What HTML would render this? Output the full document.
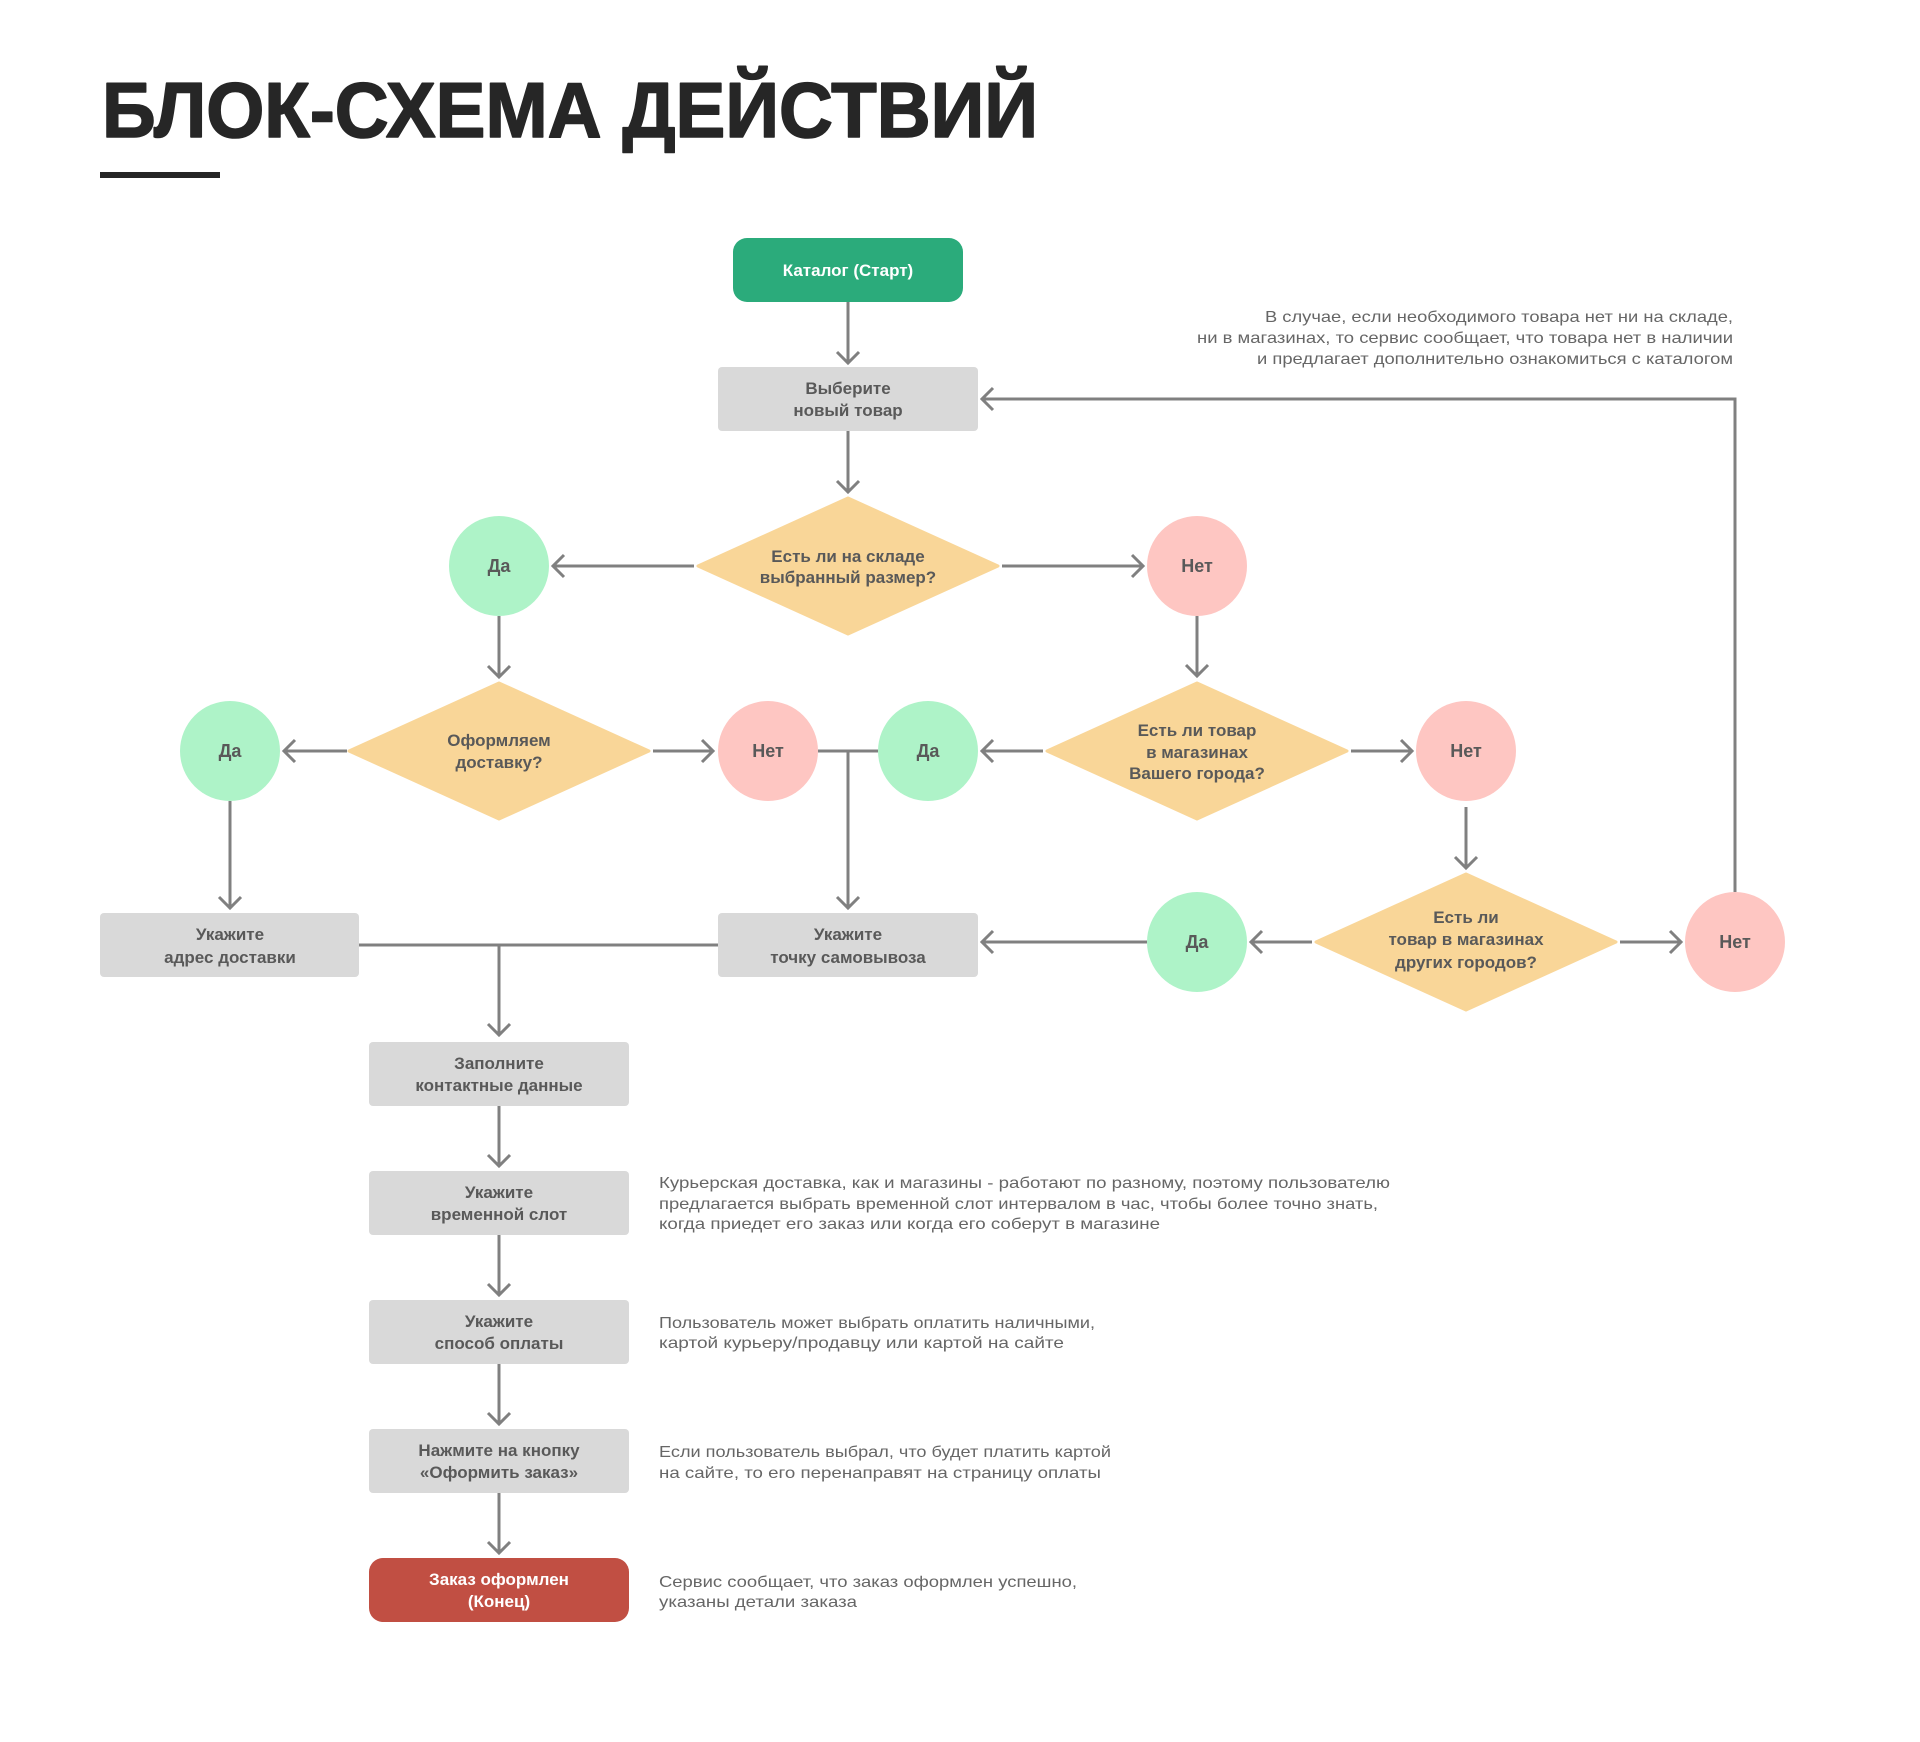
<!DOCTYPE html>
<html>
<head>
<meta charset="utf-8">
<style>
html,body{margin:0;padding:0;background:#fff;}
svg{display:block;}
</style>
</head>
<body>
<svg width="1920" height="1742" viewBox="0 0 1920 1742" xmlns="http://www.w3.org/2000/svg">
<rect width="1920" height="1742" fill="#ffffff"/>

<!-- Title -->
<text x="102" y="137" font-family="Liberation Sans, sans-serif" font-weight="bold" font-size="78" fill="#262626" stroke="#262626" stroke-width="1.6" stroke-linejoin="round" textLength="936" lengthAdjust="spacingAndGlyphs">БЛОК-СХЕМА ДЕЙСТВИЙ</text>
<rect x="100" y="172" width="120" height="6" fill="#262626"/>

<!-- Connectors -->
<g stroke="#808080" stroke-width="3" fill="none" stroke-linejoin="miter">
  <path d="M848 302 V363 M837 352 L848 363 L859 352"/>
  <path d="M848 431 V492 M837 481 L848 492 L859 481"/>
  <path d="M694 566 H553 M564 555 L553 566 L564 577"/>
  <path d="M1002 566 H1143 M1132 555 L1143 566 L1132 577"/>
  <path d="M499 616 V677 M488 666 L499 677 L510 666"/>
  <path d="M1197 616 V676 M1186 665 L1197 676 L1208 665"/>
  <path d="M347 751 H284 M295 740 L284 751 L295 762"/>
  <path d="M653 751 H713 M702 740 L713 751 L702 762"/>
  <path d="M818 751 H878 M848 751 V908 M837 897 L848 908 L859 897"/>
  <path d="M1043 751 H982 M993 740 L982 751 L993 762"/>
  <path d="M1351 751 H1412 M1401 740 L1412 751 L1401 762"/>
  <path d="M1466 807 V868 M1455 857 L1466 868 L1477 857"/>
  <path d="M1312 942 H1251 M1262 931 L1251 942 L1262 953"/>
  <path d="M1620 942 H1681 M1670 931 L1681 942 L1670 953"/>
  <path d="M1147 942 H982 M993 931 L982 942 L993 953"/>
  <path d="M1735 892 V399 H982 M993 388 L982 399 L993 410"/>
  <path d="M230 801 V908 M219 897 L230 908 L241 897"/>
  <path d="M359 945 H718 M499 945 V1035 M488 1024 L499 1035 L510 1024"/>
  <path d="M499 1106 V1166 M488 1155 L499 1166 L510 1155"/>
  <path d="M499 1234 V1295 M488 1284 L499 1295 L510 1284"/>
  <path d="M499 1363 V1424 M488 1413 L499 1424 L510 1413"/>
  <path d="M499 1493 V1553 M488 1542 L499 1553 L510 1542"/>
</g>

<!-- Shapes -->
<rect x="733" y="238" width="230" height="64" rx="14" fill="#2bab7b"/>
<rect x="718" y="367" width="260" height="64" rx="4" fill="#d9d9d9"/>

<g fill="#f9d698" stroke="#f9d698" stroke-width="3" stroke-linejoin="round">
  <polygon points="848,498 998,566 848,634 698,566"/>
  <polygon points="499,683 649,751 499,819 349,751"/>
  <polygon points="1197,683 1347,751 1197,819 1047,751"/>
  <polygon points="1466,874 1616,942 1466,1010 1316,942"/>
</g>

<g fill="#aef3c8">
  <circle cx="499" cy="566" r="50"/>
  <circle cx="230" cy="751" r="50"/>
  <circle cx="928" cy="751" r="50"/>
  <circle cx="1197" cy="942" r="50"/>
</g>
<g fill="#fec6c2">
  <circle cx="1197" cy="566" r="50"/>
  <circle cx="768" cy="751" r="50"/>
  <circle cx="1466" cy="751" r="50"/>
  <circle cx="1735" cy="942" r="50"/>
</g>

<g fill="#d9d9d9">
  <rect x="100" y="913" width="259" height="64" rx="4"/>
  <rect x="718" y="913" width="260" height="64" rx="4"/>
  <rect x="369" y="1042" width="260" height="64" rx="4"/>
  <rect x="369" y="1171" width="260" height="64" rx="4"/>
  <rect x="369" y="1300" width="260" height="64" rx="4"/>
  <rect x="369" y="1429" width="260" height="64" rx="4"/>
</g>
<rect x="369" y="1558" width="260" height="64" rx="14" fill="#c14f43"/>

<!-- Node labels -->
<g font-family="Liberation Sans, sans-serif" font-weight="bold" font-size="17" fill="#595959" text-anchor="middle">
  <text x="848" y="276" fill="#ffffff">Каталог (Старт)</text>
  <text x="848" y="394">Выберите</text>
  <text x="848" y="416">новый товар</text>

  <text x="848" y="562">Есть ли на складе</text>
  <text x="848" y="583">выбранный размер?</text>

  <text x="499" y="746">Оформляем</text>
  <text x="499" y="768">доставку?</text>

  <text x="1197" y="736">Есть ли товар</text>
  <text x="1197" y="758">в магазинах</text>
  <text x="1197" y="779">Вашего города?</text>

  <text x="1466" y="923">Есть ли</text>
  <text x="1466" y="945">товар в магазинах</text>
  <text x="1466" y="968">других городов?</text>

  <text x="230" y="940">Укажите</text>
  <text x="230" y="963">адрес доставки</text>
  <text x="848" y="940">Укажите</text>
  <text x="848" y="963">точку самовывоза</text>

  <text x="499" y="1069">Заполните</text>
  <text x="499" y="1091">контактные данные</text>
  <text x="499" y="1198">Укажите</text>
  <text x="499" y="1220">временной слот</text>
  <text x="499" y="1327">Укажите</text>
  <text x="499" y="1349">способ оплаты</text>
  <text x="499" y="1456">Нажмите на кнопку</text>
  <text x="499" y="1478">«Оформить заказ»</text>
  <text x="499" y="1585" fill="#ffffff">Заказ оформлен</text>
  <text x="499" y="1607" fill="#ffffff">(Конец)</text>
</g>
<g font-family="Liberation Sans, sans-serif" font-weight="bold" font-size="18" fill="#595959" text-anchor="middle">
  <text x="499" y="572">Да</text>
  <text x="1197" y="572">Нет</text>
  <text x="230" y="757">Да</text>
  <text x="768" y="757">Нет</text>
  <text x="928" y="757">Да</text>
  <text x="1466" y="757">Нет</text>
  <text x="1197" y="948">Да</text>
  <text x="1735" y="948">Нет</text>
</g>

<!-- Annotations -->
<g font-family="Liberation Sans, sans-serif" font-size="16" fill="#666666">
  <text x="1733" y="322" text-anchor="end" textLength="468" lengthAdjust="spacingAndGlyphs">В случае, если необходимого товара нет ни на складе,</text>
  <text x="1733" y="343" text-anchor="end" textLength="536" lengthAdjust="spacingAndGlyphs">ни в магазинах, то сервис сообщает, что товара нет в наличии</text>
  <text x="1733" y="364" text-anchor="end" textLength="476" lengthAdjust="spacingAndGlyphs">и предлагает дополнительно ознакомиться с каталогом</text>

  <text x="659" y="1188" textLength="731" lengthAdjust="spacingAndGlyphs">Курьерская доставка, как и магазины - работают по разному, поэтому пользователю</text>
  <text x="659" y="1209" textLength="719" lengthAdjust="spacingAndGlyphs">предлагается выбрать временной слот интервалом в час, чтобы более точно знать,</text>
  <text x="659" y="1229" textLength="501" lengthAdjust="spacingAndGlyphs">когда приедет его заказ или когда его соберут в магазине</text>

  <text x="659" y="1328" textLength="436" lengthAdjust="spacingAndGlyphs">Пользователь может выбрать оплатить наличными,</text>
  <text x="659" y="1348" textLength="405" lengthAdjust="spacingAndGlyphs">картой курьеру/продавцу или картой на сайте</text>

  <text x="659" y="1457" textLength="452" lengthAdjust="spacingAndGlyphs">Если пользователь выбрал, что будет платить картой</text>
  <text x="659" y="1478" textLength="442" lengthAdjust="spacingAndGlyphs">на сайте, то его перенаправят на страницу оплаты</text>

  <text x="659" y="1587" textLength="418" lengthAdjust="spacingAndGlyphs">Сервис сообщает, что заказ оформлен успешно,</text>
  <text x="659" y="1607" textLength="198" lengthAdjust="spacingAndGlyphs">указаны детали заказа</text>
</g>
</svg>
</body>
</html>
